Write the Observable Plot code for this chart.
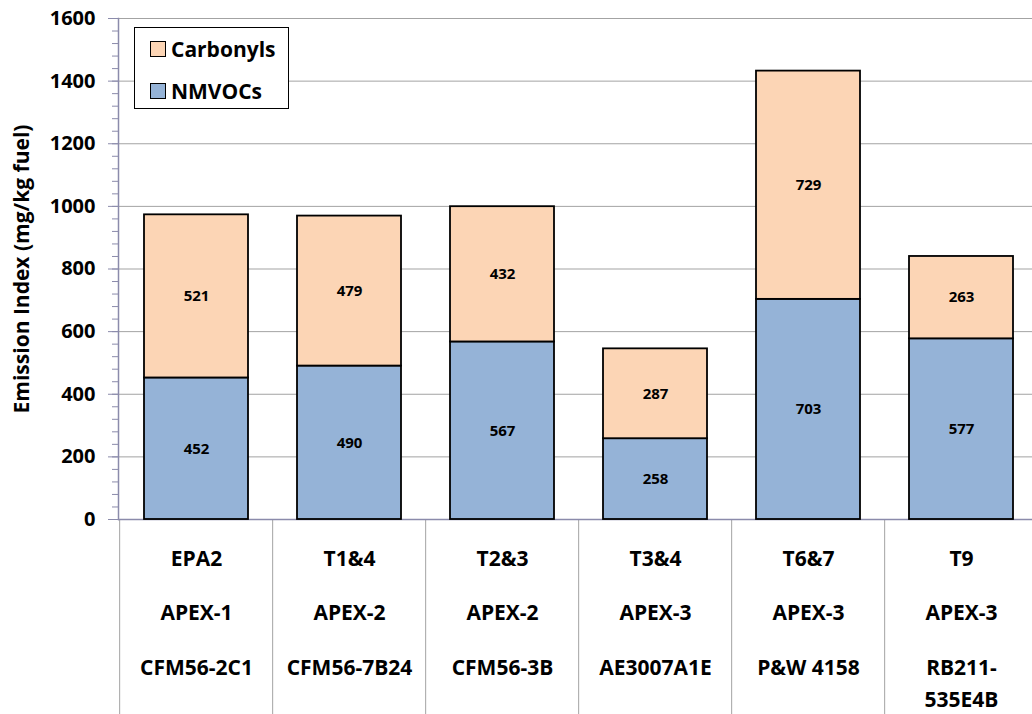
<!DOCTYPE html>
<html>
<head>
<meta charset="utf-8">
<script src="https://cdn.jsdelivr.net/npm/d3@7"></script>
<script src="https://cdn.jsdelivr.net/npm/@observablehq/plot@0.6"></script>
<style>
  html, body { margin: 0; padding: 0; background: #fff; }
  #wrap { position: relative; width: 1032px; height: 714px; overflow: hidden; font-family: "Open Sans", sans-serif; }
  #legend { position: absolute; left: 134px; top: 27px; width: 153px; height: 80px; border: 1.5px solid #000; background: #fff; font-weight: bold; font-size: 21px; color: #000; }
  #legend .row { position: absolute; left: 15px; display: flex; align-items: center; height: 24px; }
  #legend .sw { width: 14px; height: 14px; border: 1.5px solid #000; margin-right: 5px; }
</style>
</head>
<body>
<div id="wrap">
  <div id="chart"></div>
  <div id="legend"></div>
</div>
<script>
// ---- data ----
const tests = ["EPA2", "T1&4", "T2&3", "T3&4", "T6&7", "T9"];
const campaigns = ["APEX-1", "APEX-2", "APEX-2", "APEX-3", "APEX-3", "APEX-3"];
const engines = ["CFM56-2C1", "CFM56-7B24", "CFM56-3B", "AE3007A1E", "P&W 4158", "RB211-\n535E4B"];
const nmvocs = [452, 490, 567, 258, 703, 577];
const carbonyls = [521, 479, 432, 287, 729, 263];
const seriesNames = ["NMVOCs", "Carbonyls"];
const seriesColors = ["#95b3d7", "#fcd5b5"];
const yTicks = [0, 200, 400, 600, 800, 1000, 1200, 1400, 1600];
const yMinorTicks = d3.range(0, 1601, 40);
const yLabel = "Emission Index (mg/kg fuel)";

// ---- table ----
const rows = [];
tests.forEach((t, i) => {
  rows.push({test: t, series: "NMVOCs", value: nmvocs[i]});
});
tests.forEach((t, i) => {
  rows.push({test: t, series: "Carbonyls", value: carbonyls[i]});
});

const xRange = [118, 1040];
const step = (xRange[1] - xRange[0]) / tests.length;
const axisColor = "#8b8bab";
const font = "Open Sans";
const catSize = 21;

const chart = Plot.plot({
  width: 1032,
  height: 714,
  marginTop: 18,
  marginBottom: 195,
  marginLeft: 118,
  marginRight: 0,
  style: { fontFamily: font, background: "#fff", color: "#000" },
  x: { type: "band", domain: tests, range: xRange, paddingInner: 0.32, paddingOuter: 0.16, axis: null },
  y: { domain: [0, 1600], axis: null },
  color: { domain: seriesNames, range: seriesColors },
  marks: [
    Plot.gridY(yTicks, { stroke: "#a3a3a3", strokeOpacity: 1, strokeWidth: 1 }),
    Plot.axisY(yMinorTicks, { tickSize: 6, tickFormat: () => "", label: null, stroke: axisColor }),
    Plot.axisY(yTicks, { tickSize: 10, tickPadding: 13, tickFormat: d => String(d), label: null, fontSize: 20, fontWeight: "bold", stroke: axisColor, fill: "#000" }),
    Plot.axisX({ tickSize: 195, tickFormat: () => "", label: null, dx: -step / 2, stroke: "#a3a3a3" }),
    Plot.ruleY([0], { stroke: axisColor, strokeWidth: 1.5 }),
    Plot.frame({ anchor: "left", stroke: axisColor, strokeWidth: 1.5 }),
    Plot.barY(rows, { x: "test", y: "value", fill: "series", stroke: "#000", strokeWidth: 1.8 }),
    Plot.text(rows, Plot.stackY({ x: "test", y: "value", z: "series", text: d => String(d.value), fontSize: 15, fontWeight: "bold", fill: "#000" })),
    Plot.text(tests, { x: d => d, frameAnchor: "bottom", dy: 46, fontSize: catSize, fontWeight: "bold", fill: "#000" }),
    Plot.text(tests, { x: d => d, text: (d, i) => campaigns[i], frameAnchor: "bottom", dy: 100, fontSize: catSize, fontWeight: "bold", fill: "#000" }),
    Plot.text(tests, { x: d => d, text: (d, i) => engines[i], frameAnchor: "bottom", dy: 133, lineAnchor: "top", lineHeight: 32 / catSize, fontSize: catSize, fontWeight: "bold", fill: "#000" }),
    Plot.text([yLabel], { frameAnchor: "left", textAnchor: "middle", rotate: -90, dx: -96, fontSize: 21, fontWeight: "bold", fill: "#000" })
  ]
});
document.getElementById("chart").appendChild(chart);

// ---- legend ----
const legend = document.getElementById("legend");
const legendItems = [...seriesNames].reverse();
legendItems.forEach((name, i) => {
  const row = document.createElement("div");
  row.className = "row";
  row.style.top = (i === 0 ? 9 : 51) + "px";
  const sw = document.createElement("div");
  sw.className = "sw";
  sw.style.background = seriesColors[seriesNames.indexOf(name)];
  const label = document.createElement("span");
  label.textContent = name;
  row.appendChild(sw);
  row.appendChild(label);
  legend.appendChild(row);
});
</script>
</body>
</html>
